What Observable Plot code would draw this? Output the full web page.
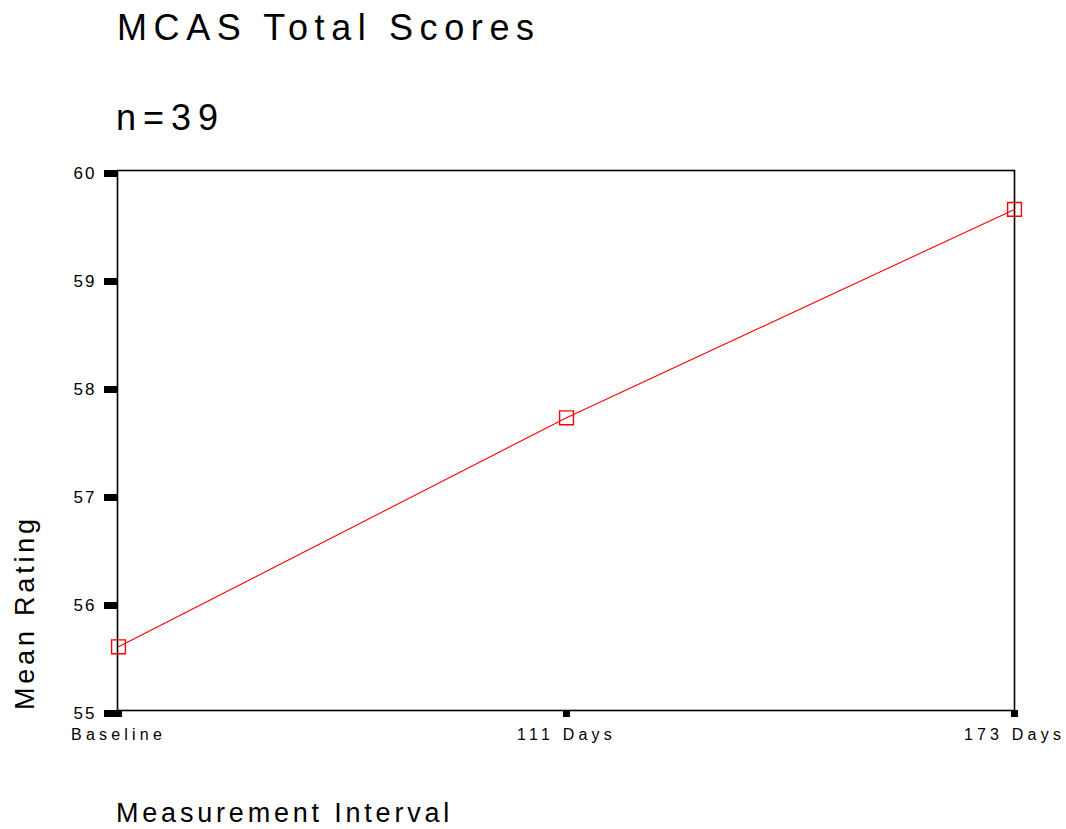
<!DOCTYPE html>
<html>
<head>
<meta charset="utf-8">
<script src="https://cdn.jsdelivr.net/npm/d3@7"></script>
<script src="https://cdn.jsdelivr.net/npm/@observablehq/plot@0.6"></script>
<style>
  html, body { margin: 0; padding: 0; background: #fff; }
  #wrap { position: relative; width: 1066px; height: 829px; overflow: hidden; font-family: "Liberation Sans", Arial, sans-serif; color: #000; }
  #wrap svg { position: absolute; left: 0; top: 0; }
  #wrap svg .xax text { letter-spacing: 4.2px; }
  #wrap svg .yax text { letter-spacing: 2px; }
  .t { position: absolute; white-space: nowrap; line-height: 1; }
  #title { left: 117px; top: 10px; font-size: 36px; letter-spacing: 6.6px; }
  #sub { left: 116px; top: 100px; font-size: 36px; letter-spacing: 7px; }
  #xlab { left: 116px; top: 800px; font-size: 27px; letter-spacing: 3.8px; }
  #ylab { left: 12px; top: 710px; font-size: 27px; letter-spacing: 3.8px; transform-origin: 0 0; transform: rotate(-90deg); }
</style>
</head>
<body>
<div id="wrap">
  <div class="t" id="title">MCAS Total Scores</div>
  <div class="t" id="sub">n=39</div>
  <div class="t" id="xlab">Measurement Interval</div>
  <div class="t" id="ylab">Mean Rating</div>
</div>
<script>
const intervals = ["Baseline", "111 Days", "173 Days"];
const meanRating = [55.59, 57.71, 59.64];
const yTicks = [55, 56, 57, 58, 59, 60];

const data = intervals.map((k, i) => ({interval: k, value: meanRating[i]}));

const chart = Plot.plot({
  width: 1066,
  height: 829,
  marginLeft: 117,
  marginRight: 52,
  marginTop: 170,
  marginBottom: 119,
  style: {fontFamily: "Liberation Sans, Arial, sans-serif", fontSize: "16px", background: "transparent", color: "#000"},
  x: {type: "point", domain: intervals, padding: 0},
  y: {domain: [55, 60]},
  marks: [
    Plot.frame({stroke: "#000", strokeWidth: 1.6}),
    Plot.axisY(yTicks, {className: "yax", tickSize: 13, strokeWidth: 7, tickPadding: 8, fontSize: 17, dy: 3, label: null, tickFormat: d => String(d)}),
    Plot.axisX(intervals, {className: "xax", tickSize: 7, strokeWidth: 7, tickPadding: 11, fontSize: 16, label: null}),
    Plot.line(data, {x: "interval", y: "value", stroke: "#ff0000", strokeWidth: 1.1}),
    Plot.dot(data, {x: "interval", y: "value", symbol: "square", r: 7.8, stroke: "#ff0000", strokeWidth: 1.4, fill: "none"})
  ]
});
document.getElementById("wrap").prepend(chart);
</script>
</body>
</html>
